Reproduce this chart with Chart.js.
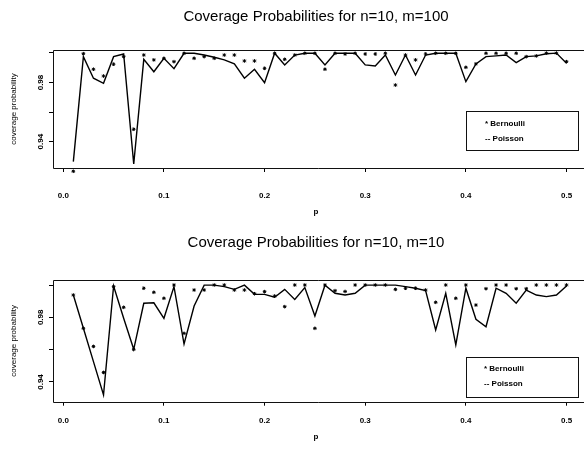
<!DOCTYPE html>
<html>
<head>
<meta charset="utf-8">
<script src="https://cdn.jsdelivr.net/npm/chart.js@4"></script>
<style>
  html, body { margin: 0; padding: 0; background: #fff; }
  .panel { position: absolute; left: 0; width: 584px; }
  #panelTop { top: 0; height: 225px; }
  #panelBottom { top: 225px; height: 224px; }
</style>
</head>
<body>
<div class="panel" id="panelTop"><canvas id="chartTop" width="584" height="225"></canvas></div>
<div class="panel" id="panelBottom"><canvas id="chartBottom" width="584" height="224"></canvas></div>
<script>
// p = 0.01 ... 0.50
const pValues = [0.01, 0.02, 0.03, 0.04, 0.05, 0.06, 0.07, 0.08, 0.09, 0.10,
                 0.11, 0.12, 0.13, 0.14, 0.15, 0.16, 0.17, 0.18, 0.19, 0.20,
                 0.21, 0.22, 0.23, 0.24, 0.25, 0.26, 0.27, 0.28, 0.29, 0.30,
                 0.31, 0.32, 0.33, 0.34, 0.35, 0.36, 0.37, 0.38, 0.39, 0.40,
                 0.41, 0.42, 0.43, 0.44, 0.45, 0.46, 0.47, 0.48, 0.49, 0.50];

// n=10, m=100
const bernoulliM100 = [0.920, 0.9995, 0.989, 0.9844, 0.9924, 0.9975, 0.9484, 0.9986, 0.9953, 0.9964,
                       0.9941, 0.9998, 0.9964, 0.9975, 0.9964, 0.9986, 0.9986, 0.9946, 0.9946, 0.9896,
                       0.9998, 0.9957, 0.9986, 0.9998, 0.9998, 0.989, 0.9998, 0.9993, 0.9998, 0.9993,
                       0.9993, 0.9998, 0.9783, 0.9986, 0.9953, 0.9993, 0.9998, 0.9998, 0.9998, 0.9903,
                       0.9926, 0.9998, 0.9998, 0.9998, 0.9998, 0.9975, 0.998, 0.9999, 0.9999, 0.9941];
const poissonM100 = [0.9265, 0.9975, 0.9829, 0.9795, 0.9975, 0.9993, 0.9249, 0.9957, 0.9873, 0.9964,
                     0.9894, 0.9998, 0.9998, 0.9986, 0.9971, 0.9953, 0.9926, 0.9829, 0.989, 0.9799,
                     0.9998, 0.9919, 0.9986, 0.9998, 0.9998, 0.9919, 0.9998, 0.9998, 0.9998, 0.9919,
                     0.9912, 0.9986, 0.9851, 0.9986, 0.9851, 0.9986, 0.9998, 0.9998, 0.9998, 0.9806,
                     0.9926, 0.9975, 0.998, 0.9986, 0.9935, 0.9975, 0.998, 0.9995, 0.9999, 0.993];

// n=10, m=10
const bernoulliM10 = [0.9938, 0.9732, 0.962, 0.9459, 0.999, 0.9862, 0.9602, 0.998, 0.9955, 0.9918,
                      1.000, 0.9701, 0.9969, 0.9969, 1.000, 1.000, 0.9969, 0.9969, 0.9946, 0.9959,
                      0.9932, 0.9866, 1.000, 1.000, 0.9732, 1.000, 0.9965, 0.996, 1.000, 1.000,
                      1.000, 1.000, 0.9973, 0.998, 0.998, 0.9969, 0.9893, 1.000, 0.9918, 1.000,
                      0.9876, 0.9977, 1.000, 1.000, 0.9977, 0.9977, 1.000, 1.000, 1.000, 1.000];
const poissonM10 = [0.9938, 0.9732, 0.9526, 0.932, 0.9994, 0.9794, 0.9602, 0.9887, 0.989, 0.9794,
                    0.999, 0.9635, 0.987, 0.9999, 0.9999, 0.999, 0.9973, 0.9999, 0.9942, 0.9942,
                    0.9924, 0.9973, 0.9911, 0.9984, 0.9808, 0.9999, 0.9949, 0.9938, 0.9949, 0.9999,
                    0.9999, 0.9999, 0.9999, 0.999, 0.998, 0.9965, 0.9722, 0.9949, 0.9629, 0.998,
                    0.9788, 0.9742, 0.998, 0.9949, 0.9887, 0.9969, 0.9938, 0.9928, 0.9938, 0.9994];

const xTicks = [0.0, 0.1, 0.2, 0.3, 0.4, 0.5];
const xTickLabels = ['0.0', '0.1', '0.2', '0.3', '0.4', '0.5'];
const yTicks = [0.94, 0.96, 0.98, 1.00];
const yTickLabels = ['0.94', '', '0.98', ''];
const seriesNames = ['Bernoulli', 'Poisson'];

const FONT = "'Liberation Sans', Arial, Helvetica, sans-serif";
Chart.defaults.font.family = FONT;
Chart.defaults.color = '#000';

// R-style box: top, left and bottom edges (right edge falls off the page)
const framePlugin = {
  id: 'frame',
  afterDatasetsDraw(chart) {
    const { ctx, chartArea: a } = chart;
    const right = chart.width;
    ctx.save();
    ctx.strokeStyle = '#111';
    ctx.lineWidth = 1;
    ctx.beginPath();
    ctx.moveTo(right, Math.round(a.top) + 0.5);
    ctx.lineTo(Math.round(a.left) + 0.5, Math.round(a.top) + 0.5);
    ctx.lineTo(Math.round(a.left) + 0.5, Math.round(a.bottom) + 0.5);
    ctx.lineTo(right, Math.round(a.bottom) + 0.5);
    ctx.stroke();
    ctx.restore();
  }
};

// text legend in a box, like legend(..., c("* Bernoulli", "-- Poisson"))
const boxLegendPlugin = {
  id: 'boxLegend',
  afterDraw(chart, args, opts) {
    const { ctx } = chart;
    const marks = ['* ', '-- '];
    ctx.save();
    ctx.fillStyle = '#fff';
    ctx.fillRect(opts.x, opts.y, opts.w, opts.h);
    ctx.strokeStyle = '#111';
    ctx.lineWidth = 1;
    ctx.strokeRect(opts.x + 0.5, opts.y + 0.5, opts.w, opts.h);
    ctx.fillStyle = '#000';
    ctx.font = 'bold 8px ' + FONT;
    ctx.textBaseline = 'middle';
    chart.data.datasets.forEach((ds, i) => {
      ctx.fillText(marks[i] + ds.label, opts.textX, opts.firstY + i * opts.lineGap);
    });
    ctx.restore();
  }
};

function makePanel(id, titleText, bern, pois, p) {
  return new Chart(id, {
    type: 'line',
    data: {
      datasets: [
        {
          label: seriesNames[0],
          data: pValues.map((x, i) => ({ x: x, y: bern[i] })),
          showLine: false,
          pointStyle: 'star',
          pointRadius: 1.8,
          pointBorderWidth: 1,
          borderColor: '#000',
          backgroundColor: '#000',
          clip: false
        },
        {
          label: seriesNames[1],
          data: pValues.map((x, i) => ({ x: x, y: pois[i] })),
          borderColor: '#000',
          borderWidth: 1.4,
          pointRadius: 0,
          tension: 0,
          fill: false
        }
      ]
    },
    options: {
      responsive: false,
      animation: false,
      devicePixelRatio: 1,
      layout: { padding: 0 },
      plugins: {
        legend: { display: false },
        tooltip: { enabled: false },
        title: {
          display: true,
          fullSize: false,
          text: titleText,
          font: { size: 15, weight: 'normal' },
          color: '#000',
          padding: p.titlePad
        },
        boxLegend: p.legend
      },
      scales: {
        x: {
          type: 'linear',
          min: -0.0102,
          max: 0.5124,
          afterBuildTicks: s => { s.ticks = xTicks.map(v => ({ value: v })); },
          afterFit: s => { s.height = p.xHeight; s.paddingLeft = 0; s.paddingRight = 0; },
          ticks: {
            callback: (v) => xTickLabels[xTicks.indexOf(v)],
            font: { size: 8, weight: 'bold' },
            color: '#000',
            padding: p.xTickPad,
            maxRotation: 0,
            autoSkip: false
          },
          grid: { drawOnChartArea: false, drawTicks: true, tickLength: 4, color: '#000' },
          border: { display: false },
          title: {
            display: true,
            text: 'p',
            font: { size: 8, weight: 'bold' },
            color: '#000',
            padding: { top: 0, bottom: p.xTitlePad }
          }
        },
        y: {
          min: p.yMin,
          max: p.yMax,
          afterBuildTicks: s => { s.ticks = yTicks.map(v => ({ value: v })); },
          afterFit: s => { s.width = 53; s.paddingTop = 0; s.paddingBottom = 0; },
          ticks: {
            callback: (v) => yTickLabels[yTicks.indexOf(v)],
            font: { size: 8, weight: 'bold' },
            color: '#000',
            minRotation: 90,
            maxRotation: 90,
            crossAlign: 'center',
            padding: 0,
            autoSkip: false
          },
          grid: { drawOnChartArea: false, drawTicks: true, tickLength: 4, color: '#000' },
          border: { display: false },
          title: {
            display: true,
            text: 'coverage probability',
            font: { size: 8 },
            color: '#000',
            padding: { top: 8.5, bottom: 0 }
          }
        }
      }
    },
    plugins: [framePlugin, boxLegendPlugin]
  });
}

makePanel('chartTop', 'Coverage Probabilities for n=10, m=100', bernoulliM100, poissonM100, {
  titlePad: { top: 8, bottom: 24 },
  xHeight: 57,
  xTickPad: 19,
  xTitlePad: 8,
  yMin: 0.9222,
  yMax: 1.002,
  legend: { x: 466, y: 111, w: 112, h: 39, textX: 485, firstY: 124, lineGap: 15 }
});

makePanel('chartBottom', 'Coverage Probabilities for n=10, m=10', bernoulliM10, poissonM10, {
  titlePad: { top: 9, bottom: 28 },
  xHeight: 47.3,
  xTickPad: 10,
  xTitlePad: 7,
  yMin: 0.9278,
  yMax: 1.0031,
  legend: { x: 466, y: 132, w: 112, h: 40, textX: 484, firstY: 143.5, lineGap: 15.5 }
});
</script>
</body>
</html>
